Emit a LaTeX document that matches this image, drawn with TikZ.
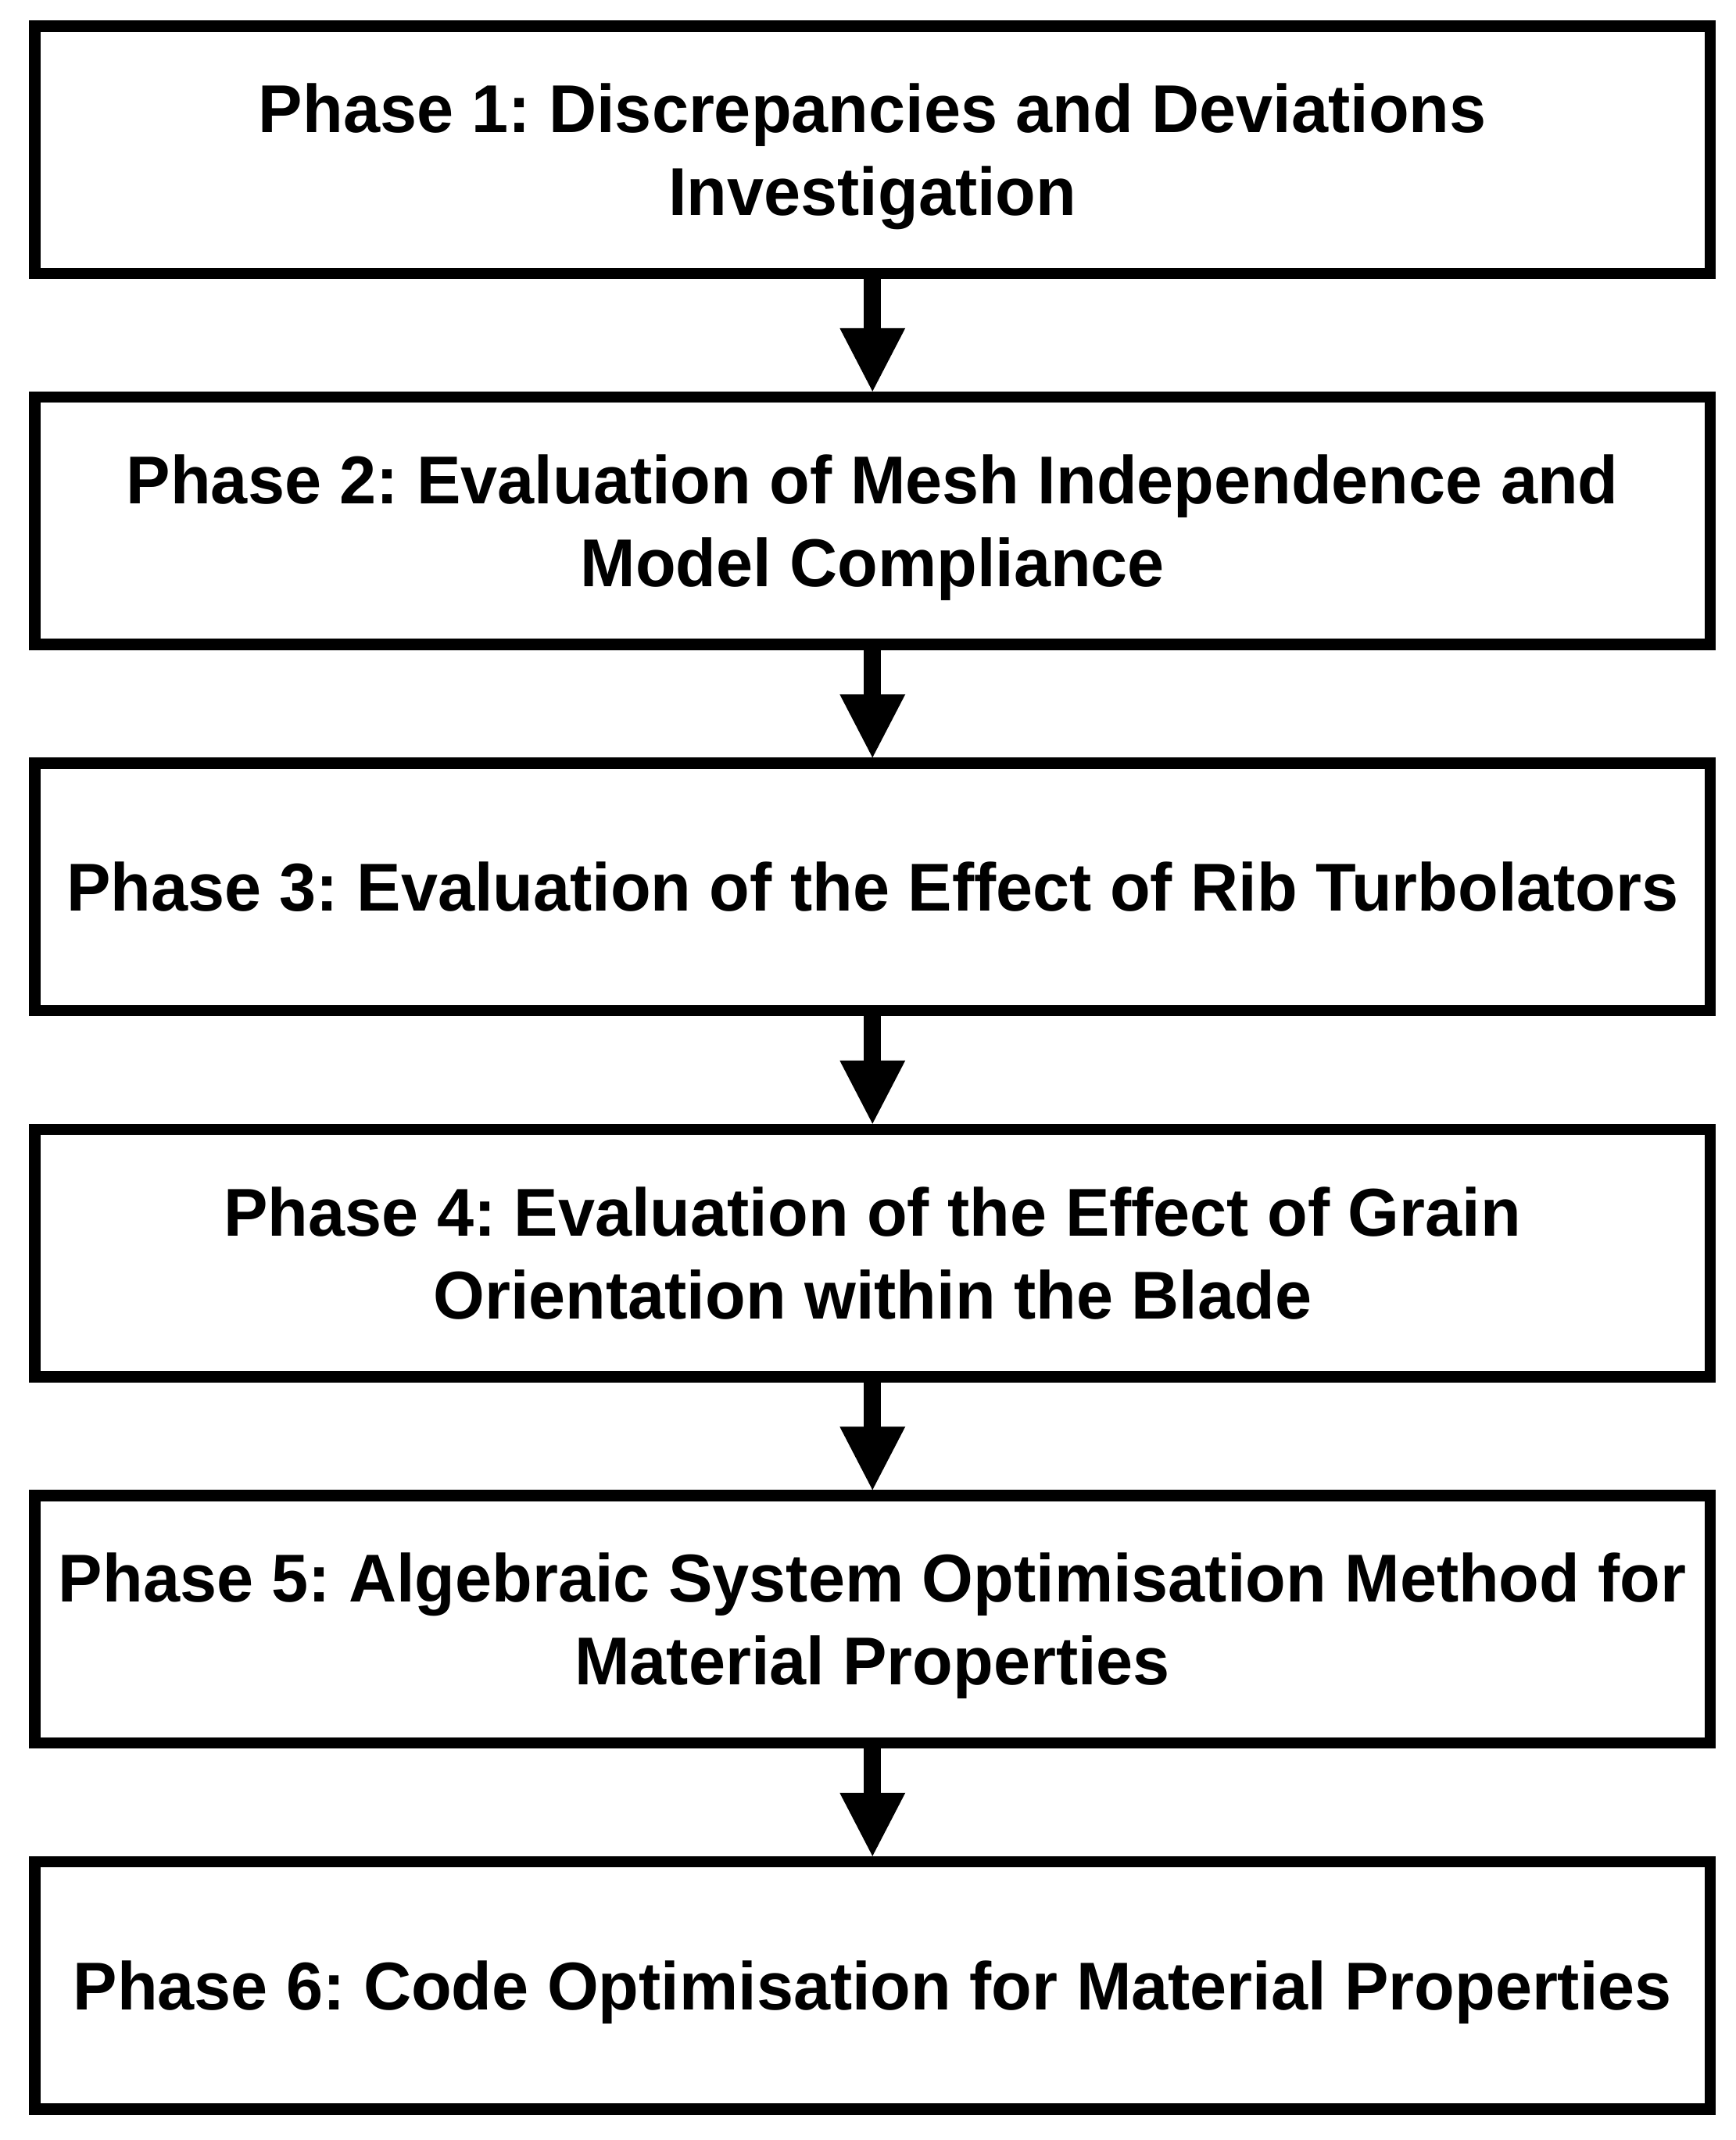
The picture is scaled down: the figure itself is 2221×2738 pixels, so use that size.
\documentclass[tikz,border=0pt]{standalone}
\usepackage{fontspec}
\setmainfont{Liberation Sans}[FakeStretch=0.977]
\usetikzlibrary{calc}
\begin{document}
\frenchspacing
\begin{tikzpicture}[x=1pt,y=-1pt,
  phasebox/.style={draw=black, line width=14.5pt, minimum width=2143.5pt, minimum height=316.5pt,
    inner sep=0pt, align=center, text height=62pt, text depth=0pt,
    font=\fontsize{86.6}{106}\selectfont\bfseries},
  twolines/.style={text height=168pt},
  shaft/.style={draw=black, line width=22pt},
  headfill/.style={fill=black}]
\useasboundingbox[fill=white] (0,0) rectangle (2221,2738);
\node[phasebox,twolines] (b1) at (1116.25,191.75) {Phase 1: Discrepancies and Deviations\\Investigation};
\node[phasebox,twolines] (b2) at (1116.25,666.25) {Phase 2: Evaluation of Mesh Independence and\\Model Compliance};
\node[phasebox] (b3) at (1116.25,1134.75) {Phase 3: Evaluation of the Effect of Rib Turbolators};
\node[phasebox,twolines] (b4) at (1116.25,1603.25) {Phase 4: Evaluation of the Effect of Grain\\Orientation within the Blade};
\node[phasebox,twolines] (b5) at (1116.25,2071.75) {Phase 5: Algebraic System Optimisation Method for\\Material Properties};
\node[phasebox] (b6) at (1116.25,2540.25) {Phase 6: Code Optimisation for Material Properties};
\foreach \a/\b in {b1/b2,b2/b3,b3/b4,b4/b5,b5/b6}{
  \draw[shaft] (\a.south) -- ($(\b.north)+(0,-79)$);
  \fill[headfill] ($(\b.north)+(-42,-81)$) -- ($(\b.north)+(42,-81)$) -- (\b.north) -- cycle;
}
\end{tikzpicture}
\end{document}
